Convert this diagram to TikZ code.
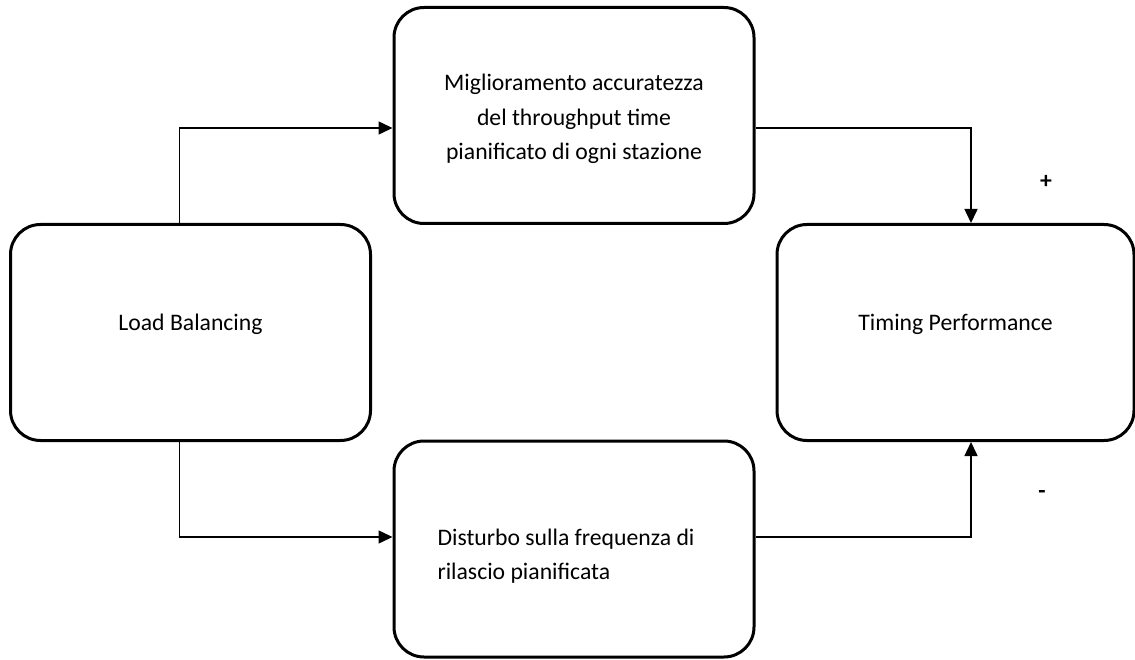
\documentclass[tikz,border=0pt]{standalone}
\usepackage{fontspec}
\setmainfont{Carlito}
\usetikzlibrary{arrows.meta,positioning}

\begin{document}
\begin{tikzpicture}[x=1pt, y=1pt, main/.style = {draw, line width=3pt, rounded corners=30pt, minimum width=360pt, minimum height=216pt, font=\fontsize{23.7}{34.5}\selectfont}, conn/.style = {line width=1.5pt, -{Triangle[length=14pt, width=13pt]}}, sign/.style = {font=\bfseries\fontsize{23.7}{34}\selectfont}]
        \useasboundingbox (0,0) rectangle (1135,-660);
        \node[main, text depth=20pt] (LB) at (190.5,-332.5) {Load Balancing};
        \node[main, align=center] (TT) at (574,-115.5) {\rule{0pt}{24pt}Miglioramento accuratezza\\del throughput time\\pianificato di ogni stazione};
        \node[main, align=left] (FR) at (574,-549) {\rule{0pt}{31pt}Disturbo sulla frequenza di\hspace*{16pt}\\rilascio pianificata};
        \node[main, minimum width=357pt, text depth=20pt] (TP) at (955.5,-332.5) {Timing Performance};
        \node[sign] (plus) at (1046,-182) {+};
        \node[sign] (minus) at (1042,-495) {-};


        \draw[conn] ([xshift=-11pt]LB.north) |- ([yshift=-12.5pt]TT.west);
        \draw[conn] ([yshift=-12.5pt]TT.east) -| ([xshift=15.5pt]TP.north);
        \draw[conn] ([xshift=-11pt]LB.south) |- ([yshift=12pt]FR.west);
        \draw[conn] ([yshift=12pt]FR.east) -| ([xshift=15.5pt]TP.south);

    \end{tikzpicture}
\end{document}
